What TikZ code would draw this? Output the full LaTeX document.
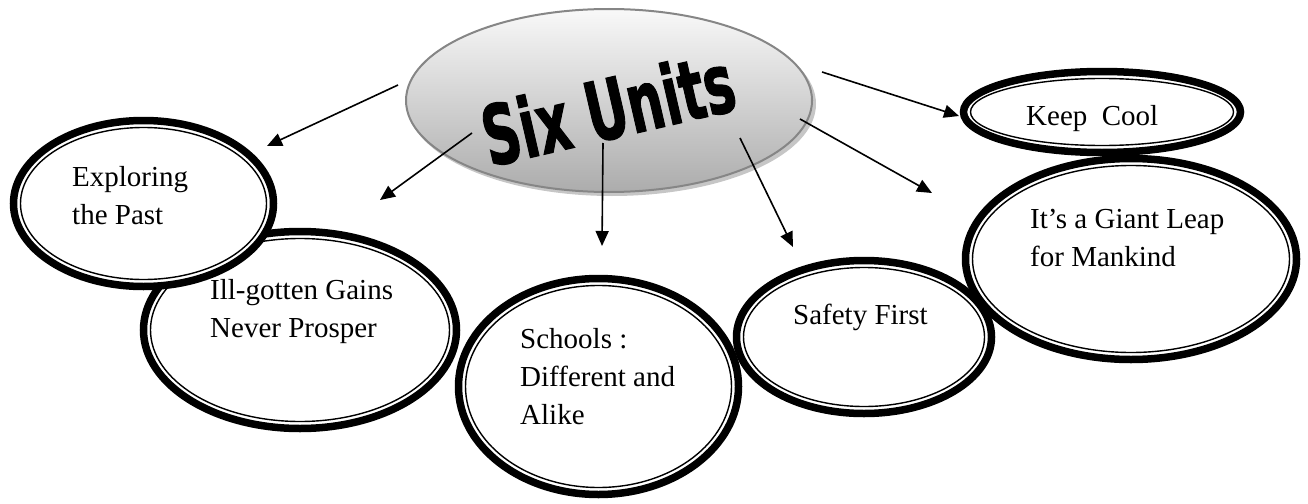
\documentclass[tikz,border=0pt]{standalone}
\usepackage{fontspec}
\setmainfont{Liberation Serif}
\newfontfamily\sixfont{DejaVu Sans Condensed}[BoldFeatures={FakeBold=1.5}]
\usetikzlibrary{shapes.geometric,arrows.meta}

\tikzset{
  unit oval/.style={ellipse, draw=black, line width=7.5pt, fill=white, inner sep=0pt, outer sep=0pt},
  unit inner/.style={draw=black, line width=1.4pt},
  unit text/.style={anchor=north west, inner sep=0pt, align=left, font=\fontsize{29}{38}\selectfont},
  unit arrow/.style={line width=1.6pt, -{Triangle[length=15pt,width=13pt]}},
}

\begin{document}
\begin{tikzpicture}[x=1pt,y=-1pt]
  \useasboundingbox (0,0) rectangle (1308,503);

  % Centre oval - grey, shaded, with a soft shadow
  \fill[gray!45] (612,104) ellipse [x radius=204, y radius=92];
  \node[ellipse, draw=gray!95, line width=2pt, top color=gray!5, bottom color=gray!65,
        minimum width=406pt, minimum height=183pt, inner sep=0pt] (units) at (609,100.5) {};
  \node[rotate=13, inner sep=0pt] (unitsText) at (608,108)
    {\scalebox{1}[1.45]{\sixfont\bfseries\fontsize{57}{60}\selectfont Six Units}};

  % Arrows - start and end in free space
  \coordinate (fromPast) at (398,85);      \coordinate (toPast) at (267,146);
  \coordinate (fromGains) at (472,133);    \coordinate (toGains) at (380,200);
  \coordinate (fromSchools) at (603,143);  \coordinate (toSchools) at (602,246);
  \coordinate (fromSafety) at (740,138);   \coordinate (toSafety) at (793,247);
  \coordinate (fromLeap) at (800,119);     \coordinate (toLeap) at (932,193);
  \coordinate (fromCool) at (822,72);      \coordinate (toCool) at (959,116);
  \draw[unit arrow] (fromPast) -- (toPast);
  \draw[unit arrow] (fromGains) -- (toGains);
  \draw[unit arrow] (fromSchools) -- (toSchools);
  \draw[unit arrow] (fromSafety) -- (toSafety);
  \draw[unit arrow] (fromLeap) -- (toLeap);
  \draw[unit arrow] (fromCool) -- (toCool);

  % Oval 2 - Ill-gotten Gains
  \node[unit oval, minimum width=313pt, minimum height=197pt] (gains) at (300,330) {};
  \draw[unit inner] (gains.center) ellipse [x radius=149.5, y radius=91.5];
  \node[unit text] (gainsText) at (210,279) {Ill-gotten Gains\\Never Prosper};

  % Oval 1 - Exploring the Past
  \node[unit oval, minimum width=260pt, minimum height=166pt] (past) at (143.5,203.5) {};
  \draw[unit inner] (past.center) ellipse [x radius=123, y radius=76];
  \node[unit text] (pastText) at (72,166) {Exploring\\the Past};

  % Oval 3 - Schools
  \node[unit oval, minimum width=280pt, minimum height=216pt] (schools) at (598.5,386.5) {};
  \draw[unit inner] (schools.center) ellipse [x radius=133, y radius=101];
  \node[unit text] (schoolsText) at (520,328) {Schools :\\Different and\\Alike};

  % Oval 4 - Safety First
  \node[unit oval, minimum width=255pt, minimum height=153pt] (safety) at (864,337) {};
  \draw[unit inner] (safety.center) ellipse [x radius=120.5, y radius=69.5];
  \node[unit text] (safetyText) at (793,304) {Safety First};

  % Oval 5 - Giant Leap
  \node[unit oval, minimum width=331pt, minimum height=201pt] (leap) at (1131,259) {};
  \draw[unit inner] (leap.center) ellipse [x radius=158.5, y radius=93.5];
  \node[unit text] (leapText) at (1030,209) {It's a Giant Leap\\for Mankind};

  % Oval 6 - Keep Cool
  \node[unit oval, minimum width=277pt, minimum height=81pt] (cool) at (1102,112) {};
  \draw[unit inner] (cool.center) ellipse [x radius=131.5, y radius=33.5];
  \node[unit text] (coolText) at (1026,105) {Keep\ \ Cool};
\end{tikzpicture}
\end{document}
